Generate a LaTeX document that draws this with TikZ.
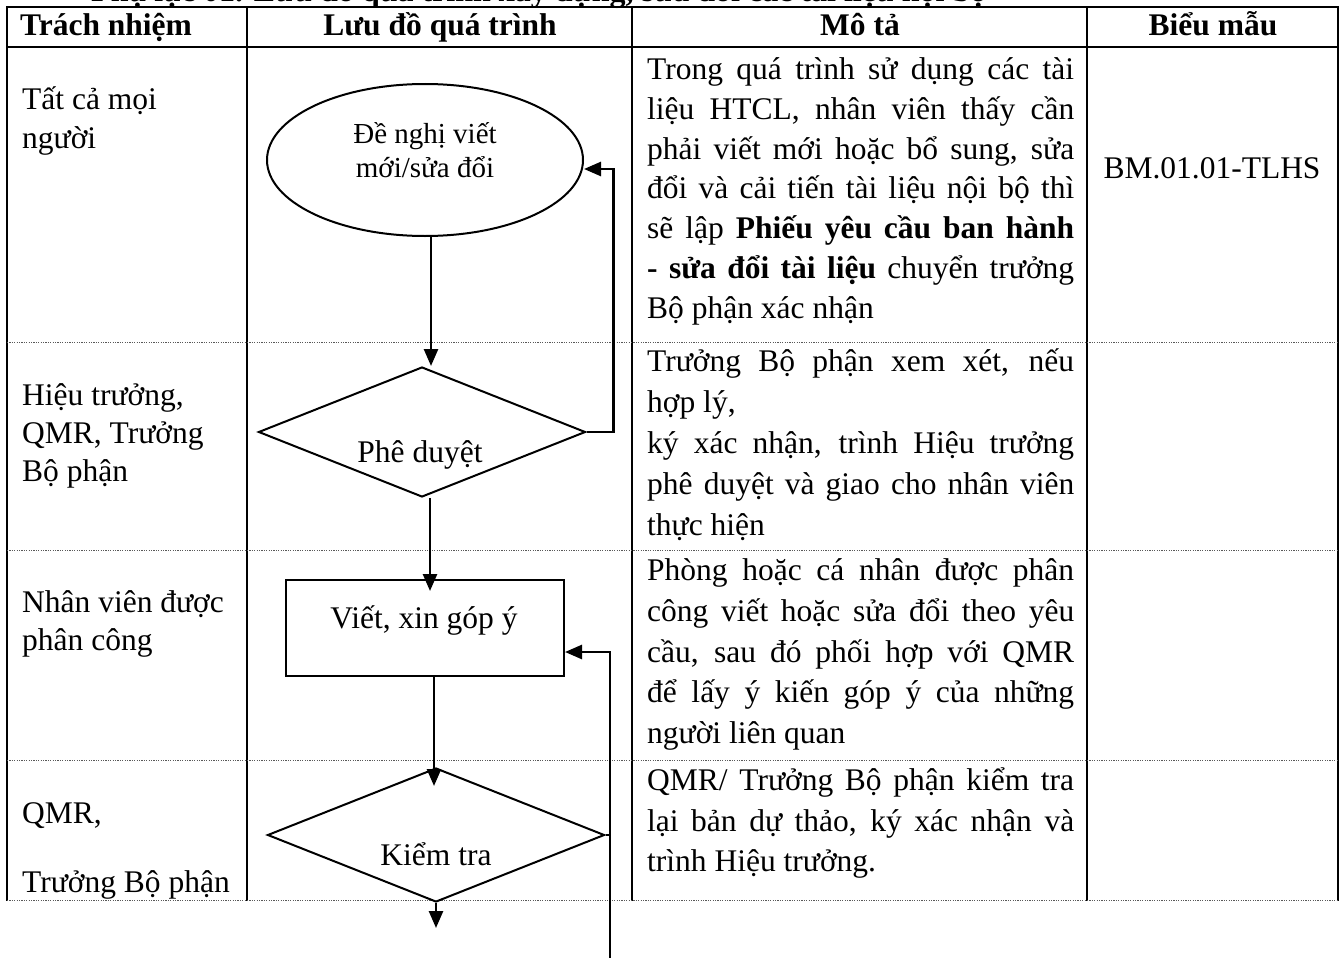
\documentclass[tikz,border=0pt]{standalone}
\usepackage{fontspec}
\setmainfont{Liberation Serif}
\usetikzlibrary{shapes.geometric,arrows.meta}
\newcommand{\jline}[1]{\makebox[427pt][s]{#1}}
\begin{document}
\begin{tikzpicture}[x=1pt,y=-1pt,
  tbl/.style={line width=2.4pt,line cap=rect},
  dotsep/.style={line width=0.9pt,black!65,dash pattern=on 1.2pt off 1.2pt},
  fshape/.style={draw,line width=2pt,inner sep=0pt},
  farrow/.style={line width=2.6pt,-{Triangle[length=17pt,width=14pt]}},
  fline/.style={line width=2.6pt},
  txt/.style={inner sep=0pt,anchor=base west,font=\fontsize{31.5}{40}\selectfont},
  txtc/.style={inner sep=0pt,anchor=base,font=\fontsize{31.5}{40}\selectfont},
  hdr/.style={inner sep=0pt,anchor=base,font=\fontsize{31.5}{40}\selectfont\bfseries},
  small/.style={inner sep=0pt,anchor=base,font=\fontsize{29}{34}\selectfont},
]
\useasboundingbox (0,0) rectangle (1344,958);
\fill[white] (0,0) rectangle (1344,958);
\clip (0,0) rectangle (1344,958);

% title (cut off at the top)
\node[inner sep=0pt,anchor=base west,font=\fontsize{32}{40}\selectfont\bfseries] (title) at (91,1.5) {Phụ lục 01. Lưu đồ quá trình xây dựng, sửa đổi các tài liệu nội bộ};

% table
\draw[tbl] (7,7) -- (1338,7);
\draw[tbl] (7,47) -- (1338,47);
\foreach \xx in {7,247,632,1087,1338} \draw[tbl] (\xx,7) -- (\xx,900);
\foreach \yy in {342,550,760,900} \draw[dotsep] (7,\yy) -- (1338,\yy);

% header
\node[hdr,anchor=base west] (h1) at (20,36) {Trách nhiệm};
\node[hdr] (h2) at (440,36) {Lưu đồ quá trình};
\node[hdr] (h3) at (860,36) {Mô tả};
\node[hdr] (h4) at (1213,36) {Biểu mẫu};

% column 1
\node[txt] (r1a) at (22,110) {Tất cả mọi};
\node[txt] (r1b) at (22,148) {người};
\node[txt] (r2a) at (22,405) {Hiệu trưởng,};
\node[txt] (r2b) at (22,443) {QMR, Trưởng};
\node[txt] (r2c) at (22,481) {Bộ phận};
\node[txt] (r3a) at (22,612) {Nhân viên được};
\node[txt] (r3b) at (22,650) {phân công};
\node[txt] (r4a) at (22,823) {QMR,};
\node[txt] (r4b) at (22,892) {Trưởng Bộ phận};

% column 3
\node[txt] (m11) at (647,79) {\jline{Trong quá trình sử dụng các tài}};
\node[txt] (m12) at (647,119) {\jline{liệu HTCL, nhân viên thấy cần}};
\node[txt] (m13) at (647,159) {\jline{phải viết mới hoặc bổ sung, sửa}};
\node[txt] (m14) at (647,198) {\jline{đổi và cải tiến tài liệu nội bộ thì}};
\node[txt] (m15) at (647,238) {\jline{sẽ lập \textbf{Phiếu yêu cầu ban hành}}};
\node[txt] (m16) at (647,278) {\jline{\textbf{- sửa đổi tài liệu} chuyển trưởng}};
\node[txt] (m17) at (647,318) {Bộ phận xác nhận};

\node[txt] (m21) at (647,371) {\jline{Trưởng Bộ phận xem xét, nếu}};
\node[txt] (m22) at (647,412) {hợp lý,};
\node[txt] (m23) at (647,453) {\jline{ký xác nhận, trình Hiệu trưởng}};
\node[txt] (m24) at (647,494) {\jline{phê duyệt và giao cho nhân viên}};
\node[txt] (m25) at (647,535) {thực hiện};

\node[txt] (m31) at (647,580) {\jline{Phòng hoặc cá nhân được phân}};
\node[txt] (m32) at (647,621) {\jline{công viết hoặc sửa đổi theo yêu}};
\node[txt] (m33) at (647,662) {\jline{cầu, sau đó phối hợp với QMR}};
\node[txt] (m34) at (647,702) {\jline{để lấy ý kiến góp ý của những}};
\node[txt] (m35) at (647,743) {người liên quan};

\node[txt] (m41) at (647,790) {\jline{QMR/ Trưởng Bộ phận kiểm tra}};
\node[txt] (m42) at (647,831) {\jline{lại bản dự thảo, ký xác nhận và}};
\node[txt] (m43) at (647,871) {trình Hiệu trưởng.};

% column 4
\node[txtc] (bm) at (1212,178) {BM.01.01-TLHS};

% flowchart shapes
\node[fshape,ellipse,minimum width=316pt,minimum height=152pt] (ell) at (425,160) {};
\node[fshape,diamond,minimum width=327pt,minimum height=130pt] (d1) at (422,432) {};
\node[fshape,rectangle,minimum width=278pt,minimum height=96pt] (rect) at (425,628) {};
\node[fshape,diamond,minimum width=337pt,minimum height=134pt] (d2) at (436,835) {};

\node[small] (ellt1) at (425,143) {Đề nghị viết};
\node[small] (ellt2) at (425,177) {mới/sửa đổi};
\node[txtc] (d1t) at (420,462) {Phê duyệt};
\node[txtc] (rectt) at (424,628) {Viết, xin góp ý};
\node[txtc] (d2t) at (436,865) {Kiểm tra};

% connectors
\draw[farrow] ([xshift=6pt]ell.south) -- ([xshift=6pt]ell.south |- d1.north);
\draw[farrow,shorten >=-12pt] ([xshift=8pt]d1.south) -- ([xshift=8pt]d1.south |- rect.north);
\draw[farrow,shorten >=-19pt] ([xshift=9pt]rect.south) -- ([xshift=9pt]rect.south |- d2.north);
\draw[farrow] (d1.east) -- ++(27,0) |- ([yshift=-9pt]ell.east);
\coordinate (lb) at (610,962);
\draw[farrow] (lb) |- ([yshift=-24pt]rect.east);
\draw[fline] (d2.east) -- (d2.east -| lb);
\coordinate (outc) at (436,928);
\draw[farrow] (d2.south) -- (outc);
\end{tikzpicture}
\end{document}
